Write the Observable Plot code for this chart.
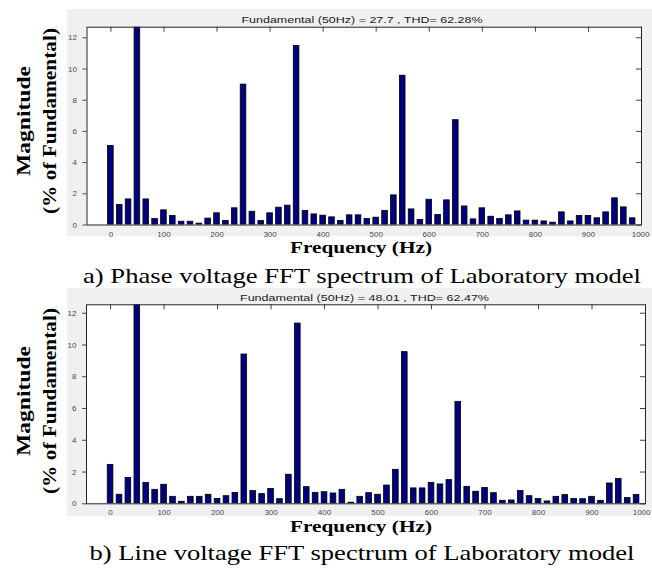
<!DOCTYPE html>
<html><head><meta charset="utf-8">
<script src="https://cdn.jsdelivr.net/npm/d3@7"></script>
<script src="https://cdn.jsdelivr.net/npm/@observablehq/plot@0.6"></script>
<style>
html,body{margin:0;padding:0;background:#fff;}
#root{position:relative;width:652px;height:572px;overflow:hidden;background:#fff;}
#root > svg{position:absolute;}
#overlay{left:0;top:0;pointer-events:none;}
</style></head><body><div id="root"></div>
<script>
// ---- data ----
const freqs = [0, 16.7, 33.3, 50, 66.7, 83.3, 100, 116.7, 133.3, 150,
  166.7, 183.3, 200, 216.7, 233.3, 250, 266.7, 283.3, 300, 316.7,
  333.3, 350, 366.7, 383.3, 400, 416.7, 433.3, 450, 466.7, 483.3,
  500, 516.7, 533.3, 550, 566.7, 583.3, 600, 616.7, 633.3, 650,
  666.7, 683.3, 700, 716.7, 733.3, 750, 766.7, 783.3, 800, 816.7,
  833.3, 850, 866.7, 883.3, 900, 916.7, 933.3, 950, 966.7, 983.3];
const phaseMag = [5.07, 1.28, 1.64, 100, 1.64, 0.38, 0.94, 0.58, 0.21, 0.21,
  0.09, 0.41, 0.75, 0.26, 1.07, 9.0, 0.85, 0.26, 0.75, 1.11,
  1.24, 11.47, 0.9, 0.68, 0.6, 0.49, 0.26, 0.62, 0.62, 0.38,
  0.47, 0.9, 1.9, 9.57, 1.0, 0.32, 1.62, 0.64, 1.58, 6.72,
  1.19, 0.36, 1.07, 0.53, 0.38, 0.62, 0.87, 0.28, 0.28, 0.23,
  0.15, 0.81, 0.23, 0.58, 0.58, 0.43, 0.81, 1.71, 1.13, 0.43];
const lineMag = [2.45, 0.57, 1.62, 100, 1.32, 0.88, 1.2, 0.44, 0.13, 0.44,
  0.44, 0.57, 0.31, 0.48, 0.69, 9.4, 0.8, 0.61, 0.94, 0.29,
  1.83, 11.35, 1.05, 0.69, 0.73, 0.65, 0.88, 0.07, 0.44, 0.67,
  0.57, 1.15, 2.14, 9.55, 0.97, 0.97, 1.32, 1.22, 1.49, 6.42,
  1.07, 0.76, 1.0, 0.67, 0.19, 0.21, 0.8, 0.48, 0.31, 0.15,
  0.44, 0.55, 0.31, 0.29, 0.44, 0.19, 1.28, 1.57, 0.36, 0.55];
const xTicks = [0, 100, 200, 300, 400, 500, 600, 700, 800, 900, 1000];
const yTicks = [0, 2, 4, 6, 8, 10, 12];
const titleA = "Fundamental (50Hz) = 27.7 , THD= 62.28%";
const titleB = "Fundamental (50Hz) = 48.01 , THD= 62.47%";
const xLabel = "Frequency (Hz)";
const yLabel1 = "Magnitude";
const yLabel2 = "(% of Fundamental)";
const captionA = "a) Phase voltage FFT spectrum of Laboratory model";
const captionB = "b) Line voltage FFT spectrum of Laboratory model";

// ---- styling / layout ----
const BAR_HALF = 5.3;
const root = document.getElementById("root");
const fmt = d => String(d);

function panel(mags, g) {
  const data = freqs.map((f, i) => ({f, v: mags[i]}));
  const innerW = g.width - g.ml - g.mr, innerH = g.height - g.mt - g.mb;
  const svg = Plot.plot({
    width: g.width, height: g.height,
    marginTop: g.mt, marginRight: g.mr, marginBottom: g.mb, marginLeft: g.ml,
    style: {background: "#f0f0f0", fontFamily: "'Liberation Sans', Arial, sans-serif", fontSize: "8px", color: "#4a4a4a", overflow: "visible"},
    x: {domain: [-45, 1000], label: null},
    y: {domain: [0, g.ymax], label: null},
    marks: [
      Plot.frame({fill: "white", stroke: null}),
      Plot.rectY(data, {x1: d => d.f - BAR_HALF, x2: d => d.f + BAR_HALF, y1: 0, y2: "v",
        fill: "#00007f", stroke: "#000", strokeWidth: 0.8, clip: true}),
      Plot.tickX(xTicks, {x: d => d, insetBottom: innerH - 5, stroke: "#404040"}),
      Plot.tickY(yTicks, {y: d => d, insetLeft: innerW - 5, stroke: "#404040"}),
      Plot.axisX(xTicks.slice(0, -1), {tickSize: 0, tickPadding: 6, tickFormat: fmt, label: null}),
      Plot.axisX(xTicks.slice(-1), {tickSize: 0, tickPadding: 6, tickFormat: fmt, label: null, textAnchor: "end", dx: g.lastDx}),
      Plot.axisY(yTicks, {tickSize: 4, tickPadding: 6, tickFormat: fmt, label: null}),
      Plot.frame({stroke: "#262626", strokeWidth: 1})
    ]
  });
  svg.style.left = g.left + "px";
  svg.style.top = g.top + "px";
  root.appendChild(svg);
}

panel(phaseMag, {left: 67, top: 9, width: 585, height: 227, mt: 17.7, mr: 11, mb: 11.5, ml: 19.5, ymax: 12.68, lastDx: 8});
panel(lineMag, {left: 67, top: 288, width: 585, height: 228, mt: 16.3, mr: 7, mb: 12.7, ml: 19, ymax: 12.53, lastDx: 5});

// ---- text overlay ----
const NS = "http://www.w3.org/2000/svg";
const ov = document.createElementNS(NS, "svg");
ov.setAttribute("id", "overlay");
ov.setAttribute("width", 652);
ov.setAttribute("height", 572);
root.appendChild(ov);

function txt(str, o) {
  const t = document.createElementNS(NS, "text");
  t.textContent = str;
  t.setAttribute("text-anchor", "middle");
  t.style.fontFamily = o.family;
  t.setAttribute("font-size", o.size);
  if (o.weight) t.setAttribute("font-weight", o.weight);
  t.setAttribute("fill", o.color || "#000");
  if (o.len) { t.setAttribute("textLength", o.len); t.setAttribute("lengthAdjust", "spacingAndGlyphs"); }
  t.setAttribute("transform", `translate(${o.x},${o.y})` + (o.rotate ? ` rotate(${o.rotate})` : ""));
  ov.appendChild(t);
}
const SANS = "'Liberation Sans', Arial, sans-serif";
const SERIF = "'Liberation Serif', 'Times New Roman', Times, serif";

// panel A texts
txt(titleA, {x: 362, y: 22.6, size: 8.5, family: SANS, len: 241, color: "#1a1a1a"});
txt(xLabel, {x: 361, y: 252.5, size: 16.5, family: SERIF, weight: "bold", len: 142});
txt(captionA, {x: 362, y: 283, size: 21.5, family: SERIF, len: 558});
txt(yLabel1, {x: 29.5, y: 121, size: 19, family: SERIF, weight: "bold", len: 110, rotate: -90});
txt(yLabel2, {x: 56, y: 121, size: 19, family: SERIF, weight: "bold", len: 186, rotate: -90});

// panel B texts
txt(titleB, {x: 364.5, y: 300.6, size: 8.5, family: SANS, len: 249, color: "#1a1a1a"});
txt(xLabel, {x: 361, y: 532, size: 16.5, family: SERIF, weight: "bold", len: 142});
txt(captionB, {x: 362, y: 560, size: 21.5, family: SERIF, len: 545});
txt(yLabel1, {x: 29.5, y: 401, size: 19, family: SERIF, weight: "bold", len: 110, rotate: -90});
txt(yLabel2, {x: 56, y: 401, size: 19, family: SERIF, weight: "bold", len: 186, rotate: -90});
</script>
</body></html>
